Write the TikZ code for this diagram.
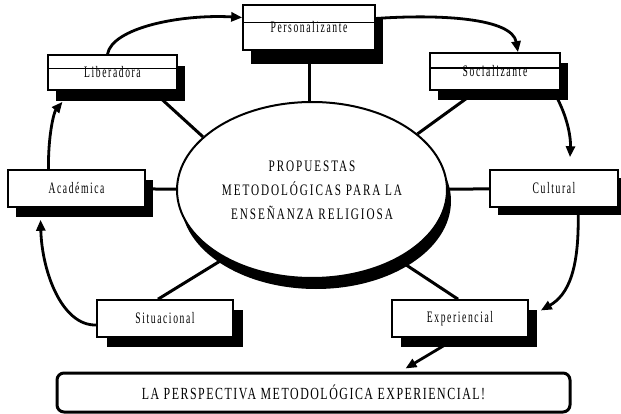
\documentclass[tikz,border=0pt]{standalone}
\usepackage{fontspec}
\setmainfont{Liberation Serif}
\newfontfamily\boxfont[FakeStretch=0.6,LetterSpace=10]{Liberation Serif}
\newfontfamily\ellfont[FakeStretch=0.7,LetterSpace=12]{Liberation Serif}
\newfontfamily\banfont[FakeStretch=0.7,LetterSpace=9]{Liberation Serif}
\usetikzlibrary{shapes.geometric,shadows,arrows.meta,backgrounds}
\begin{document}
\begin{tikzpicture}[x=1pt,y=-1pt,
  box/.style={draw, line width=1.6pt, fill=white, inner sep=0pt, font=\boxfont\fontsize{16}{18}\selectfont},
  conn/.style={line width=3pt},
  flow/.style={line width=2.8pt, -{Triangle[length=11pt,width=9pt]}},
  shd/.style 2 args={drop shadow={shadow xshift=#1pt, shadow yshift=#2pt, fill=black, opacity=1}},
  topline/.style={line width=1.6pt}
]
\useasboundingbox (0,0) rectangle (621,414);
% boxes
\node[box, shd={8}{-14}, minimum width=132pt, minimum height=45pt] (pers) at (309,27.5) {Personalizante};
\node[box, shd={8}{-11}, minimum width=129pt, minimum height=35pt] (lib) at (112.5,72.5) {Liberadora};
\node[box, shd={8}{-10}, minimum width=130pt, minimum height=37pt] (soc) at (495,71.5) {Socializante};
\node[box, shd={8}{-10}, minimum width=137pt, minimum height=37pt] (aca) at (76.5,188.5) {Académica};
\node[box, shd={8}{-8}, minimum width=128pt, minimum height=37pt] (cul) at (554,188.5) {Cultural};
\node[box, shd={10}{-10}, minimum width=136pt, minimum height=37pt] (sit) at (165,318.5) {Situacional};
\node[box, shd={9}{-10}, minimum width=136pt, minimum height=37pt] (exp) at (460,318.5) {Experiencial};
% central ellipse
\node[ellipse, draw, line width=2pt, fill=white, shd={4}{-11}, minimum width=270pt, minimum height=176pt, inner sep=0pt, align=center, font=\ellfont\fontsize{16}{24}\selectfont] (ell) at (312,190) {PROPUESTAS\\METODOLÓGICAS PARA LA\\ENSEÑANZA RELIGIOSA};
% bottom banner
\node[draw, rounded corners=7pt, line width=3pt, fill=white, minimum width=513pt, minimum height=39pt, inner sep=0pt, font=\banfont\fontsize{17}{19}\selectfont] (ban) at (313.5,392.5) {LA PERSPECTIVA METODOLÓGICA EXPERIENCIAL!};
% top lines of the upper boxes
\draw[topline] ([yshift=5pt]pers.west) -- ([yshift=5pt]pers.east);
\draw[topline] ([yshift=4pt]lib.west) -- ([yshift=4pt]lib.east);
\draw[topline] ([yshift=3.5pt]soc.west) -- ([yshift=3.5pt]soc.east);
% spokes
\begin{scope}[on background layer]
\draw[conn] (pers) -- (pers |- ell.north);
\draw[conn] ([xshift=40pt]lib.south) -- (ell.154);
\draw[conn] ([xshift=-18pt]soc.south) -- (ell.28);
\draw[conn] (aca) -- (ell);
\draw[conn] (cul) -- (ell);
\draw[conn] ([xshift=-7pt]sit.north) -- (ell.218);
\draw[conn] ([xshift=-2pt]exp.north) -- (ell.321);
\end{scope}
% cycle arrows
\draw[flow] ([xshift=-5pt]lib.north) .. controls (112,28) and (180,14) .. ([yshift=10pt]pers.west);
\draw[flow] ([yshift=9pt]pers.east) .. controls (440,14) and (512,18) .. ([xshift=23pt]soc.north);
\draw[flow] ([xshift=58pt]soc.south) .. controls (566,112) and (571,135) .. ([xshift=16pt,yshift=12pt]cul.north);
\draw[flow] ([xshift=24pt]cul.south) .. controls (580,270) and (568,295) .. ([xshift=12pt,yshift=8pt]exp.east);
\draw[flow] ([yshift=-6.5pt]sit.west) .. controls (62,326) and (42,272) .. ([xshift=-36pt,yshift=-12pt]aca.south);
\draw[flow] ([xshift=-28pt]aca.north) .. controls (48,135) and (54,112) .. ([xshift=-50pt,yshift=-11pt]lib.south);
\draw[flow] ([xshift=-3pt]exp.south) -- ([xshift=92pt,yshift=3pt]ban.north);
\end{tikzpicture}
\end{document}
